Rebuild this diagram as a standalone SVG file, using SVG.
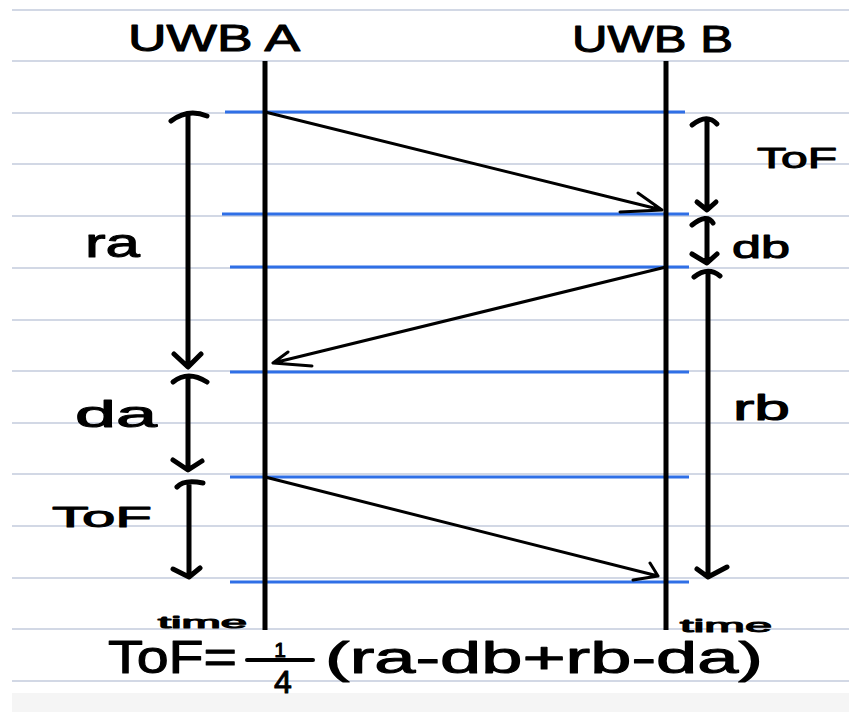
<svg xmlns="http://www.w3.org/2000/svg" width="849" height="712" viewBox="0 0 849 712">
<style>
.rule{stroke:#c3cbdd;stroke-width:1.5}
.blue{stroke:#2f6fe6;stroke-width:3}
.life{stroke:#000;stroke-width:5}
.msg{stroke:#000;stroke-width:3;fill:none;stroke-linecap:round;stroke-linejoin:round}
.dim{stroke:#000;stroke-width:5;fill:none;stroke-linecap:round;stroke-linejoin:round}
.hand{font-family:"Liberation Sans","DejaVu Sans",sans-serif;fill:#000;stroke:#000;stroke-width:1;stroke-linejoin:round}
</style>
<rect width="849" height="712" fill="#fff"/>
<rect x="12" y="693" width="837" height="19" fill="#f5f5f5"/>
<g id="paper">
<line class="rule" x1="12" y1="10" x2="849" y2="10"/>
<line class="rule" x1="12" y1="61" x2="849" y2="61"/>
<line class="rule" x1="12" y1="113" x2="849" y2="113"/>
<line class="rule" x1="12" y1="164" x2="849" y2="164"/>
<line class="rule" x1="12" y1="216" x2="849" y2="216"/>
<line class="rule" x1="12" y1="268" x2="849" y2="268"/>
<line class="rule" x1="12" y1="320" x2="849" y2="320"/>
<line class="rule" x1="12" y1="371" x2="849" y2="371"/>
<line class="rule" x1="12" y1="423" x2="849" y2="423"/>
<line class="rule" x1="12" y1="474" x2="849" y2="474"/>
<line class="rule" x1="12" y1="526" x2="849" y2="526"/>
<line class="rule" x1="12" y1="578" x2="849" y2="578"/>
<line class="rule" x1="12" y1="629" x2="849" y2="629"/>
<line class="rule" x1="12" y1="681" x2="849" y2="681"/>
</g>
<g id="events">
<line class="blue" x1="225" y1="112" x2="685" y2="112"/>
<line class="blue" x1="222" y1="214" x2="689" y2="214"/>
<line class="blue" x1="230" y1="267" x2="689" y2="267"/>
<line class="blue" x1="230" y1="372" x2="689" y2="372"/>
<line class="blue" x1="230" y1="477" x2="689" y2="477"/>
<line class="blue" x1="230" y1="582" x2="689" y2="582"/>
</g>
<g id="uwb-a">
<line class="life" x1="265" y1="61" x2="265" y2="630"/>
<text class="hand" x="128" y="51" font-size="36" textLength="172" lengthAdjust="spacingAndGlyphs">UWB A</text>
<text class="hand" x="158" y="628" font-size="17" stroke-width="0.6" textLength="89" lengthAdjust="spacingAndGlyphs">time</text>
</g>
<g id="uwb-b">
<line class="life" x1="666" y1="61" x2="666" y2="630"/>
<text class="hand" x="572" y="52" font-size="36" textLength="161" lengthAdjust="spacingAndGlyphs">UWB B</text>
<text class="hand" x="680" y="632" font-size="19" stroke-width="0.6" textLength="92" lengthAdjust="spacingAndGlyphs">time</text>
</g>
<g id="connectors">
<path class="msg" d="M265,112 L662,210 M620,212 L662,210 L638,193"/>
<path class="msg" d="M666,267 L273,363 M288,352 L273,363 L312,366"/>
<path class="msg" d="M265,477 L658,576 M633,580 L658,576 L650,563"/>
<path class="dim" d="M188,114 L188,366 M171,121 Q188,108 207,116 M174,354 L188,367 L201,354"/>
<path class="dim" d="M188,377 L188,469 M173,382 Q188,370 207,382 M173,460 L188,470 L202,461"/>
<path class="dim" d="M189,483 L189,576 M177,487 Q184,479 203,483 M173,569 L189,577 L200,568"/>
<path class="dim" d="M707,120 L707,209 M692,125 Q707,113 717,124 M697,202 L707,210 L716,202"/>
<path class="dim" d="M707,219 L707,262 M692,225 Q707,213 713,223 M692,254 L707,263 L717,254"/>
<path class="dim" d="M708,272 L708,576 M694,277 Q708,266 720,276 M697,569 L708,577 L727,567"/>
</g>
<g id="label-ra"><text class="hand" x="85" y="257" font-size="40" textLength="55" lengthAdjust="spacingAndGlyphs">ra</text></g>
<g id="label-da"><text class="hand" x="75" y="427" font-size="37" textLength="82" lengthAdjust="spacingAndGlyphs">da</text></g>
<g id="label-tof-left"><text class="hand" x="52" y="527" font-size="30" textLength="100" lengthAdjust="spacingAndGlyphs">ToF</text></g>
<g id="label-tof-right"><text class="hand" x="757" y="168" font-size="29" textLength="80" lengthAdjust="spacingAndGlyphs">ToF</text></g>
<g id="label-db"><text class="hand" x="732" y="258" font-size="31" textLength="58" lengthAdjust="spacingAndGlyphs">db</text></g>
<g id="label-rb"><text class="hand" x="733" y="420" font-size="35" textLength="57" lengthAdjust="spacingAndGlyphs">rb</text></g>
<g id="formula">
<text class="hand" x="108" y="673" font-size="46" textLength="129" lengthAdjust="spacingAndGlyphs">ToF=</text>
<text class="hand" x="280" y="657" font-size="21" text-anchor="middle">1</text>
<line x1="247" y1="660" x2="313" y2="660" stroke="#000" stroke-width="4" stroke-linecap="round"/>
<text class="hand" x="283" y="693" font-size="32" text-anchor="middle">4</text>
<text class="hand" x="325" y="673" font-size="44" textLength="438" lengthAdjust="spacingAndGlyphs">(ra-db+rb-da)</text>
</g>
</svg>
